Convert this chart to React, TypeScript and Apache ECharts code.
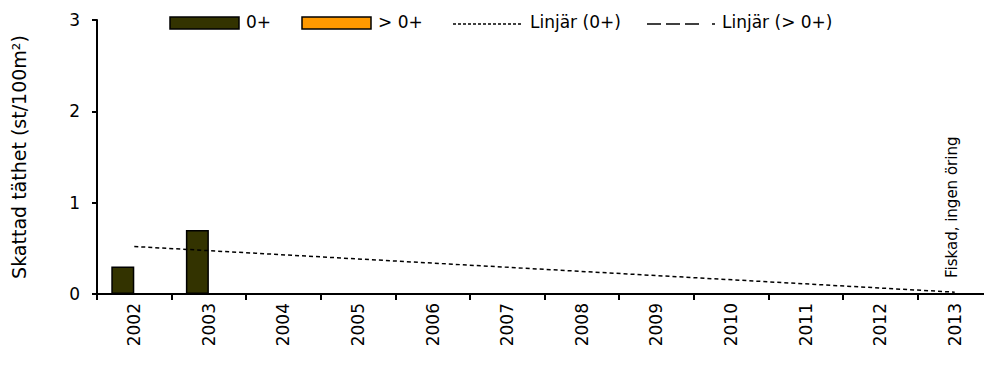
import React, { useEffect, useRef } from "react";
import * as echarts from "echarts";

const years = ["2002", "2003", "2004", "2005", "2006", "2007", "2008", "2009", "2010", "2011", "2012", "2013"];
const young = [0.3, 0.7, null, null, null, null, null, null, null, null, null, 0];
const older = [null, null, null, null, null, null, null, null, null, null, null, null];
const trendYoung = [0.52, null, null, null, null, null, null, null, null, null, null, 0.02];
const yTicks = [0, 1, 2, 3];
const noteYear = "2013";
const noteText = "Fiskad, ingen öring";

const FONT = "DejaVu Sans";

export default function App() {
  const ref = useRef<HTMLDivElement>(null);
  useEffect(() => {
    if (!ref.current) return;
    const chart = echarts.init(ref.current, null, { renderer: "svg" });
    chart.setOption({
      animation: false,
      textStyle: { fontFamily: FONT },
      grid: { left: 97, top: 20, width: 895, bottom: 74, containLabel: false, outerBoundsMode: "none" },
      xAxis: {
        type: "category",
        data: years,
        boundaryGap: true,
        axisLine: { lineStyle: { color: "#000", width: 2 } },
        axisTick: { show: true, length: 6, lineStyle: { color: "#000", width: 2 } },
        axisLabel: { rotate: 90, margin: 9, color: "#000", fontSize: 17, fontFamily: FONT },
        splitLine: { show: false },
      },
      yAxis: {
        type: "value",
        min: yTicks[0],
        max: yTicks[yTicks.length - 1],
        interval: 1,
        name: "Skattad täthet (st/100m²)",
        nameLocation: "middle",
        nameGap: 69,
        nameTextStyle: { fontSize: 19, color: "#000", fontFamily: FONT },
        axisLine: { show: true, lineStyle: { color: "#000", width: 2 } },
        axisTick: { show: true, length: 5, lineStyle: { color: "#000", width: 2 } },
        axisLabel: { margin: 17, color: "#000", fontSize: 17, fontFamily: FONT },
        splitLine: { show: false },
      },
      series: [
        {
          name: "0+",
          type: "bar",
          data: young,
          barWidth: 23,
          barGap: "0%",
          itemStyle: { color: "#333300", borderColor: "#000", borderWidth: 1.5 },
        },
        {
          name: "> 0+",
          type: "bar",
          data: older,
          barWidth: 23,
          barGap: "0%",
          itemStyle: { color: "#FF9900", borderColor: "#000", borderWidth: 1.5 },
        },
        {
          name: "Linjär (0+)",
          type: "line",
          data: trendYoung,
          connectNulls: true,
          symbol: "none",
          lineStyle: { color: "#000", width: 1.5, type: [4, 3] },
          z: 5,
        },
      ],
    });
    const p = (chart.convertToPixel({ seriesIndex: 0 }, [noteYear, 0]) as number[]) || [955, 294];
    chart.setOption({
      graphic: [
        { type: "rect", shape: { x: 170, y: 17, width: 69, height: 12 }, style: { fill: "#333300", stroke: "#000", lineWidth: 1.5 } },
        { type: "text", x: 246, y: 22, style: { text: "0+", fontSize: 17, fontFamily: FONT, fill: "#000", textVerticalAlign: "middle" } },
        { type: "rect", shape: { x: 302, y: 17, width: 69, height: 12 }, style: { fill: "#FF9900", stroke: "#000", lineWidth: 1.5 } },
        { type: "text", x: 378, y: 22, style: { text: "> 0+", fontSize: 17, fontFamily: FONT, fill: "#000", textVerticalAlign: "middle" } },
        { type: "line", shape: { x1: 453, y1: 24, x2: 521, y2: 24 }, style: { stroke: "#000", lineWidth: 1.5, lineDash: [3, 2] } },
        { type: "text", x: 530, y: 22, style: { text: "Linjär (0+)", fontSize: 17, fontFamily: FONT, fill: "#000", textVerticalAlign: "middle" } },
        { type: "line", shape: { x1: 647, y1: 24, x2: 661, y2: 24 }, style: { stroke: "#000", lineWidth: 1.5 } },
        { type: "line", shape: { x1: 666, y1: 24, x2: 680, y2: 24 }, style: { stroke: "#000", lineWidth: 1.5 } },
        { type: "line", shape: { x1: 685, y1: 24, x2: 699, y2: 24 }, style: { stroke: "#000", lineWidth: 1.5 } },
        { type: "line", shape: { x1: 712, y1: 24, x2: 715, y2: 24 }, style: { stroke: "#000", lineWidth: 1.5 } },
        { type: "text", x: 722, y: 22, style: { text: "Linjär (> 0+)", fontSize: 17, fontFamily: FONT, fill: "#000", textVerticalAlign: "middle" } },
        {
          type: "text",
          x: p[0] - 3,
          y: p[1] - 16,
          rotation: Math.PI / 2,
          style: { text: noteText, fontSize: 15, fontFamily: FONT, fill: "#000", textAlign: "left", textVerticalAlign: "middle" },
        },
      ],
    });
    return () => chart.dispose();
  }, []);
  return <div ref={ref} style={{ width: 984, height: 368, position: "absolute", left: 0, top: 0 }} />;
}
